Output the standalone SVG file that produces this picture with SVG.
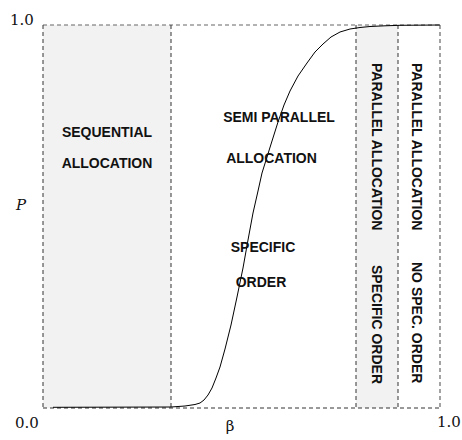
<svg xmlns="http://www.w3.org/2000/svg" width="462" height="440" viewBox="0 0 462 440">
<style>
.lbl{font-family:"Liberation Sans",Arial,sans-serif;font-weight:bold;font-size:14px;fill:#111}
.num{font-family:"DejaVu Serif","Liberation Serif",serif;font-size:15px;fill:#111}
.dash{fill:none;stroke:#333;stroke-width:1;stroke-dasharray:4 3}
.dashg{fill:none;stroke:#666;stroke-width:1.2;stroke-dasharray:4 3}
</style>
<rect width="462" height="440" fill="#fff"/>
<g id="regions">
<rect id="seq" x="43" y="25" width="128" height="383" fill="#f2f2f2"/>
<rect id="par" x="356" y="25" width="42" height="383" fill="#f2f2f2"/>
</g>
<g id="frame">
<line class="dashg" x1="43" y1="25" x2="440" y2="25"/>
<line class="dashg" x1="440" y1="25" x2="440" y2="408"/>
<line class="dash" x1="43" y1="408" x2="440" y2="408" stroke-width="1.4"/>
<line class="dash" x1="43" y1="25" x2="43" y2="408" stroke-width="1.8"/>
<line class="dash" x1="171" y1="25" x2="171" y2="408" stroke="#555"/>
<line class="dash" x1="356" y1="25" x2="356" y2="408"/>
<line class="dash" x1="398" y1="25" x2="398" y2="408"/>
</g>
<g id="connectors">
<polyline fill="none" stroke="#000" stroke-width="1" stroke-linejoin="round" points="53,407.3 171,407 185,406 195,404.5 200,403 204,400 208,395 212,388 216,378 220,367 225,349 231,325 237,297 243,268 248,240 253,213 258,191 262,173 267,157 272,141 278,122 284,105 290,91 298,76 307,63 315,52 323,44 331,37 340,32 350,29 360,27.5 370,26.5 385,25.8 400,25.3 440,25"/>
</g>
<g id="labels">
<text class="lbl" x="107" y="137" text-anchor="middle">SEQUENTIAL</text>
<text class="lbl" x="107" y="168" text-anchor="middle">ALLOCATION</text>
<text class="lbl" x="279" y="122" text-anchor="middle">SEMI PARALLEL</text>
<text class="lbl" x="271.5" y="163" text-anchor="middle">ALLOCATION</text>
<text class="lbl" x="263" y="252" text-anchor="middle">SPECIFIC</text>
<text class="lbl" x="261" y="287" text-anchor="middle">ORDER</text>
<text class="lbl" transform="translate(372,63) rotate(90)">PARALLEL ALLOCATION</text>
<text class="lbl" transform="translate(372,265) rotate(90)">SPECIFIC ORDER</text>
<text class="lbl" transform="translate(412,63) rotate(90)">PARALLEL ALLOCATION</text>
<text class="lbl" transform="translate(412,262) rotate(90)">NO SPEC. ORDER</text>
</g>
<g id="axes">
<text class="num" x="10" y="25">1.0</text>
<text class="num" x="15" y="428">0.0</text>
<text class="num" x="437" y="427">1.0</text>
<text class="num" x="230" y="431" text-anchor="middle">β</text>
<text class="num" x="16" y="210" font-style="italic">P</text>
</g>
</svg>
